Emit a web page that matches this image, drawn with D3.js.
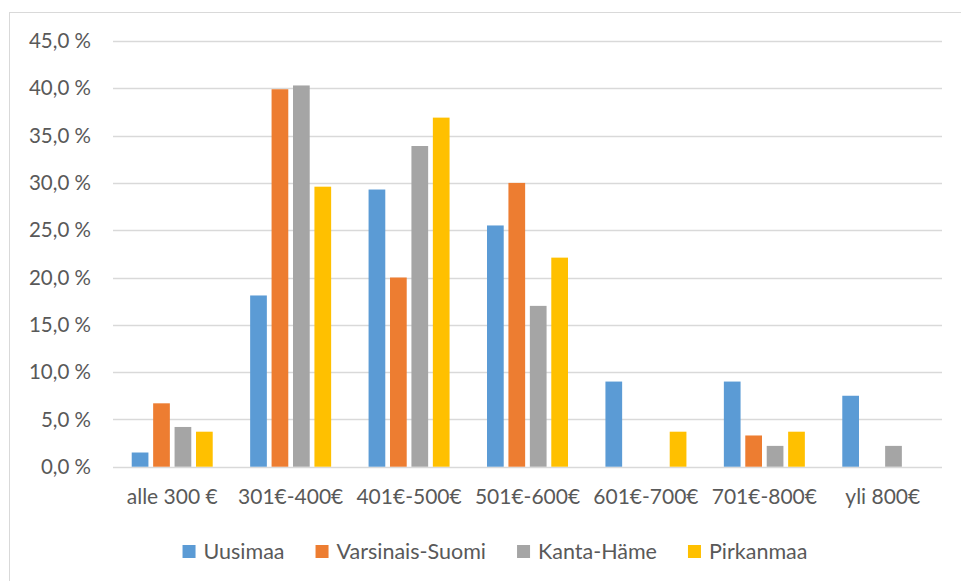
<!DOCTYPE html>
<html>
<head>
<meta charset="utf-8">
<script src="https://cdn.jsdelivr.net/npm/d3@7"></script>
<style>
  body { margin: 0; background: #fff; }
  text { font-family: Lato, "Open Sans", sans-serif; fill: #595959; }
</style>
</head>
<body>
<div id="chart"></div>
<script>
const categories = ['alle 300 €', '301€-400€', '401€-500€', '501€-600€', '601€-700€', '701€-800€', 'yli 800€'];
const seriesNames = ['Uusimaa', 'Varsinais-Suomi', 'Kanta-Häme', 'Pirkanmaa'];
const uusimaa = [1.5, 18.1, 29.3, 25.5, 9.0, 9.0, 7.5];
const varsinaisSuomi = [6.7, 39.9, 20.0, 30.0, 0, 3.3, 0];
const kantaHame = [4.2, 40.3, 33.9, 17.0, 0, 2.2, 2.2];
const pirkanmaa = [3.7, 29.6, 36.9, 22.1, 3.7, 3.7, 0];
const yTicks = [0, 5, 10, 15, 20, 25, 30, 35, 40, 45];
const colors = ['#5B9BD5', '#ED7D31', '#A5A5A5', '#FFC000'];

const allValues = [uusimaa, varsinaisSuomi, kantaHame, pirkanmaa];

const width = 961;
const height = 581;

const svg = d3.select('#chart')
  .append('svg')
  .attr('width', width)
  .attr('height', height);

// chart frame
svg.append('rect')
  .attr('x', 9.5)
  .attr('y', 12.5)
  .attr('width', 1000)
  .attr('height', 1000)
  .attr('fill', '#fff')
  .attr('stroke', '#d9d9d9');

const x0 = d3.scaleBand()
  .domain(categories)
  .range([113, 942]);

const x1 = d3.scaleBand()
  .domain(seriesNames)
  .range([0, 81])
  .paddingInner(0.22);

const y = d3.scaleLinear()
  .domain([0, 45])
  .range([466.7, 41]);

const color = d3.scaleOrdinal().domain(seriesNames).range(colors);

// gridlines
svg.append('g')
  .selectAll('line')
  .data(yTicks)
  .enter()
  .append('line')
  .attr('x1', 113)
  .attr('x2', 942)
  .attr('y1', d => Math.round(y(d)) + 0.5)
  .attr('y2', d => Math.round(y(d)) + 0.5)
  .attr('stroke', '#d9d9d9')
  .attr('stroke-width', 1.3);

// y labels
const fmt = d => d3.format('.1f')(d).replace('.', ',') + ' %';
svg.append('g')
  .selectAll('text')
  .data(yTicks)
  .enter()
  .append('text')
  .attr('x', 91)
  .attr('y', d => y(d))
  .attr('dy', '0.35em')
  .attr('text-anchor', 'end')
  .style('font-size', '20.5px')
  .text(fmt);

// bars
const groupOffset = (x0.bandwidth() - 81) / 2;
const groups = svg.append('g')
  .selectAll('g')
  .data(categories)
  .enter()
  .append('g')
  .attr('transform', d => `translate(${x0(d) + groupOffset},0)`);

groups.selectAll('rect')
  .data((d, i) => seriesNames.map((s, j) => ({ series: s, value: allValues[j][i] })))
  .enter()
  .append('rect')
  .filter(d => d.value > 0)
  .attr('x', d => x1(d.series))
  .attr('y', d => y(d.value))
  .attr('width', x1.bandwidth())
  .attr('height', d => y(0) - y(d.value))
  .attr('fill', d => color(d.series));

// x labels
svg.append('g')
  .selectAll('text')
  .data(categories)
  .enter()
  .append('text')
  .attr('x', d => x0(d) + x0.bandwidth() / 2)
  .attr('y', 497)
  .attr('dy', '0.35em')
  .attr('text-anchor', 'middle')
  .style('font-size', '21px')
  .text(d => d);

// legend
const legend = svg.append('g');
const items = legend.selectAll('g')
  .data(seriesNames)
  .enter()
  .append('g');

items.append('rect')
  .attr('width', 13)
  .attr('height', 13)
  .attr('y', 545)
  .attr('fill', d => color(d));

items.append('text')
  .attr('x', 21)
  .attr('y', 551.5)
  .attr('dy', '0.35em')
  .style('font-size', '21.5px')
  .text(d => d);

let cursor = 0;
const positions = [];
items.each(function () {
  const w = d3.select(this).select('text').node().getComputedTextLength();
  positions.push(cursor);
  cursor += 21 + w + 31;
});
const total = cursor - 31;
const legendStart = 495 - total / 2;
items.attr('transform', (d, i) => `translate(${legendStart + positions[i]},0)`);
</script>
</body>
</html>
